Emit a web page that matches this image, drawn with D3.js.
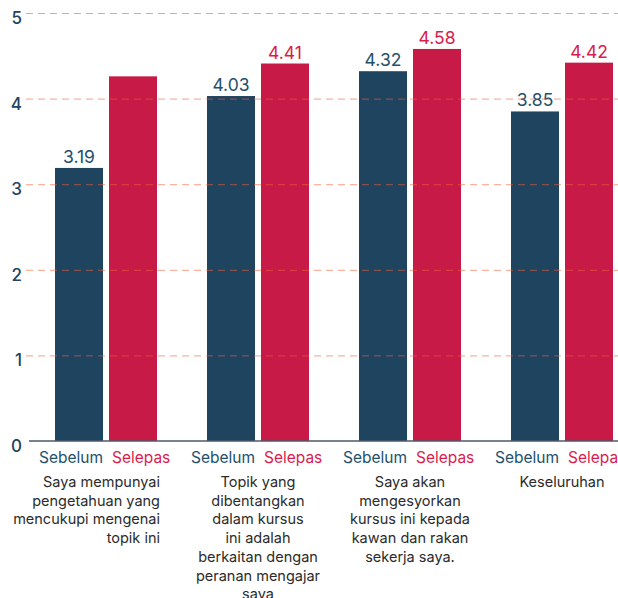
<!DOCTYPE html>
<html>
<head>
<meta charset="utf-8">
<script src="https://cdn.jsdelivr.net/npm/d3@7"></script>
<style>
  body { margin: 0; background: #ffffff; }
  svg { display: block; font-family: "Inter", "Liberation Sans", sans-serif; }
</style>
</head>
<body>
<svg id="drawing_region"></svg>
<script>
// data
var categories = [
    ["Saya mempunyai", "pengetahuan yang", "mencukupi mengenai", "topik ini"],
    ["Topik yang", "dibentangkan", "dalam kursus", "ini adalah", "berkaitan dengan", "peranan mengajar", "saya"],
    ["Saya akan", "mengesyorkan", "kursus ini kepada", "kawan dan rakan", "sekerja saya."],
    ["Keseluruhan"]
];
var series = ["Sebelum", "Selepas"];
var sebelum = [3.19, 4.03, 4.32, 3.85];
var selepas = [4.26, 4.41, 4.58, 4.42];
var value_labels = [["3.19", ""], ["4.03", "4.41"], ["4.32", "4.58"], ["3.85", "4.42"]];
var y_ticks = [0, 1, 2, 3, 4, 5];

var bar_colors = { "Sebelum": "#1f4460", "Selepas": "#c81a47" };
var text_colors = { "Sebelum": "#23506b", "Selepas": "#d81c4c" };

var width = 618, height = 598;

var svg = d3.select('#drawing_region')
    .attr('width', width)
    .attr('height', height);

// scales
var yscale = d3.scaleLinear().domain([0, 5]).range([441, 13]);

var xscale = d3.scaleBand()
    .domain(d3.range(categories.length))
    .range([55, 613])
    .paddingInner(50 / 152)
    .paddingOuter(0);

var xsub = d3.scaleBand()
    .domain(series)
    .range([0, xscale.bandwidth()])
    .paddingInner(6 / 54)
    .paddingOuter(0);

var rows = categories.map((c, i) => ({
    index: i,
    lines: c,
    values: [
        { key: "Sebelum", value: sebelum[i], label: value_labels[i][0] },
        { key: "Selepas", value: selepas[i], label: value_labels[i][1] }
    ]
}));

// bars
var groups = svg.append('g').selectAll('g')
    .data(rows)
    .join('g')
    .attr('transform', d => `translate(${xscale(d.index)}, 0)`);

groups.selectAll('rect')
    .data(d => d.values)
    .join('rect')
    .attr('x', d => xsub(d.key))
    .attr('y', d => yscale(d.value))
    .attr('width', xsub.bandwidth())
    .attr('height', d => yscale(0) - yscale(d.value))
    .attr('fill', d => bar_colors[d.key]);

groups.selectAll('text.value')
    .data(d => d.values)
    .join('text')
    .attr('class', 'value')
    .attr('x', d => xsub(d.key) + xsub.bandwidth() / 2)
    .attr('y', d => yscale(d.value) - 5)
    .attr('text-anchor', 'middle')
    .attr('font-size', '17.5px')
    .attr('fill', d => text_colors[d.key])
    .text(d => d.label);

// grid lines (over the bars)
var grid = svg.append('g')
    .attr('transform', 'translate(26, 0)')
    .call(d3.axisRight(yscale)
        .tickValues(y_ticks.filter(t => t > 0))
        .tickSize(width - 26)
        .tickFormat(''));
grid.select('.domain').remove();
grid.selectAll('line')
    .attr('stroke', '#f0603c')
    .attr('stroke-opacity', 0.6)
    .attr('stroke-dasharray', '7,5');

// y axis labels
var yaxis = svg.append('g')
    .attr('transform', 'translate(22, 5)')
    .call(d3.axisLeft(yscale).tickValues(y_ticks).tickSize(0).tickPadding(0).tickFormat(d3.format('d')));
yaxis.select('.domain').remove();
yaxis.selectAll('text')
    .attr('font-size', '17px')
    .attr('font-weight', 500)
    .attr('font-family', '"Inter", "Liberation Sans", sans-serif')
    .attr('fill', '#23445e');

// baseline
svg.append('line')
    .attr('x1', 29)
    .attr('x2', width)
    .attr('y1', yscale(0))
    .attr('y2', yscale(0))
    .attr('stroke', '#4b5a68')
    .attr('stroke-width', 1.5);

// series labels under bars
groups.selectAll('text.series')
    .data(d => d.values)
    .join('text')
    .attr('class', 'series')
    .attr('x', d => d.key === "Sebelum" ? xsub(d.key) + xsub.bandwidth() : xsub(d.key) + 3)
    .attr('y', 463)
    .attr('text-anchor', d => d.key === "Sebelum" ? 'end' : 'start')
    .attr('font-size', '15.5px')
    .attr('fill', d => text_colors[d.key])
    .text(d => d.key);

// category labels
groups.append('text')
    .attr('font-size', '14.5px')
    .attr('fill', '#2b2b2b')
    .attr('text-anchor', d => d.index === 0 ? 'end' : 'middle')
    .each(function(d) {
        var x = d.index === 0 ? xscale.bandwidth() + 3 : xscale.bandwidth() / 2;
        d3.select(this).selectAll('tspan')
            .data(d.lines)
            .join('tspan')
            .attr('x', x)
            .attr('y', (l, j) => 487 + j * 18.7)
            .text(l => l);
    });
</script>
</body>
</html>
